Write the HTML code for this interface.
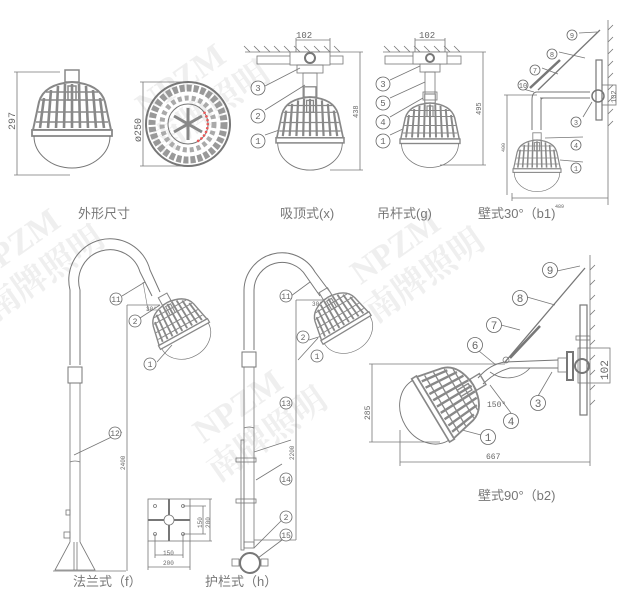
<!DOCTYPE html>
<html><head><meta charset="utf-8"><style>
html,body{margin:0;padding:0;background:#fff;}
svg{display:block;}
text{font-family:"Liberation Mono","Noto Sans CJK SC",monospace;fill:#666;}
.cn{font-size:13px;fill:#777;font-family:"Liberation Sans","Noto Sans CJK SC",sans-serif;}
.wm{font-size:34px;font-weight:bold;fill:#efefef;font-family:"Liberation Serif","Noto Serif CJK SC",serif;}
</style></head><body>
<svg width="631" height="601" viewBox="0 0 631 601" xmlns="http://www.w3.org/2000/svg">
<defs>
<g id="lamp">
  <rect x="-7" y="-12" width="14" height="12" fill="none" stroke="#888" stroke-width="1.5"/>
  <path d="M-39 48 L-33 20 Q-28 2 0 0 Q28 2 33 20 L39 48 Z" fill="#fff" stroke="#888" stroke-width="2"/>
  <g stroke="#888" stroke-width="2.6" fill="none">
    <path d="M-32 46 L-28 16 M-24 46 L-21 8 M-16 46 L-14 4 M-8 46 L-7 2 M0 46 L0 2 M8 46 L7 2 M16 46 L14 4 M24 46 L21 8 M32 46 L28 16"/>
    <path d="M-34 30 L34 30 M-31 18 L31 18 M-36 40 L36 40 M-26 10 L26 10" stroke-width="1.4"/>
    <rect x="-4" y="4" width="8" height="14" stroke-width="1.5"/>
  </g>
  <rect x="-40" y="48" width="80" height="6" fill="#fff" stroke="#888" stroke-width="1.8"/>
  <path d="M-38 54 A38 32 0 0 0 38 54" fill="none" stroke="#777" stroke-width="1"/>
</g>
<g id="c"><circle r="7" fill="#fff" stroke="#666" stroke-width="0.8"/></g>
</defs>

<!-- watermarks -->
<g transform="rotate(-35 200 300)">
<text class="wm" x="30" y="160">NPZM</text><text class="wm" x="20" y="200">南牌照明</text>
<text class="wm" x="260" y="120">NPZM</text><text class="wm" x="250" y="160">南牌照明</text>
<text class="wm" x="120" y="420">NPZM</text><text class="wm" x="110" y="460">南牌照明</text>
<text class="wm" x="340" y="380">NPZM</text><text class="wm" x="330" y="420">南牌照明</text>
</g>

<g stroke="#777" stroke-width="0.8" fill="none">
<!-- 外形尺寸 -->
<line x1="17" y1="72" x2="17" y2="175"/><line x1="14" y1="72" x2="60" y2="72"/><line x1="14" y1="175" x2="70" y2="175"/>
<!-- top view -->
<circle cx="188" cy="124" r="42" stroke-width="2"/>
<circle cx="188" cy="124" r="36" stroke-width="7" stroke="#999" stroke-dasharray="5 2"/>
<circle cx="188" cy="124" r="26" stroke-width="5" stroke="#aaa" stroke-dasharray="4 3"/>
<circle cx="188" cy="124" r="20" stroke-width="1"/>
<path d="M188 108 L188 140 M174 116 L202 132 M174 132 L202 116" stroke-width="3" stroke="#888"/>
<path d="M204 112 A20 20 0 0 1 196 142" stroke="#e55" stroke-width="2.5" stroke-dasharray="2 2"/>
<line x1="143" y1="82" x2="143" y2="166"/><line x1="140" y1="82" x2="185" y2="82"/><line x1="140" y1="166" x2="185" y2="166"/>
<!-- 吸顶 -->
<line x1="245" y1="52" x2="345" y2="52"/>
<path d="M250 52 l-6 -6 M260 52 l-6 -6 M270 52 l-6 -6 M280 52 l-6 -6 M290 52 l-6 -6 M300 52 l-6 -6 M310 52 l-6 -6 M320 52 l-6 -6 M330 52 l-6 -6 M340 52 l-6 -6"/>
<rect x="257" y="56" width="86" height="8"/><rect x="290" y="52" width="40" height="13" fill="#fff"/><circle cx="310" cy="58" r="5" stroke-width="2"/>
<rect x="297" y="65" width="26" height="8"/><rect x="303" y="73" width="14" height="24"/>
<path d="M296 38 L296 52 M330 38 L330 52 M296 40 L330 40"/>
<line x1="360" y1="52" x2="360" y2="170"/><line x1="345" y1="52" x2="363" y2="52"/><line x1="330" y1="170" x2="363" y2="170"/>
<path d="M265 86 L300 68 M265 110 L305 85 M265 135 L285 128"/>
<!-- 吊杆 -->
<line x1="383" y1="52" x2="460" y2="52"/>
<path d="M390 52 l-6 -6 M400 52 l-6 -6 M410 52 l-6 -6 M420 52 l-6 -6 M430 52 l-6 -6 M440 52 l-6 -6 M450 52 l-6 -6 M460 52 l-6 -6"/>
<rect x="385" y="56" width="76" height="8"/><rect x="413" y="52" width="34" height="12" fill="#fff"/><circle cx="430" cy="58" r="4" stroke-width="2"/>
<rect x="420" y="64" width="20" height="8"/><rect x="425" y="72" width="10" height="22"/><rect x="423" y="92" width="14" height="8"/>
<path d="M415 38 L415 52 M445 38 L445 52 M415 40 L445 40"/>
<line x1="483" y1="52" x2="483" y2="165"/><line x1="460" y1="52" x2="486" y2="52"/><line x1="440" y1="165" x2="486" y2="165"/>
<path d="M390 80 L420 66 M390 98 L425 82 M390 117 L423 98 M390 135 L405 128"/>
<!-- 壁式30 -->
<line x1="608" y1="20" x2="608" y2="205"/>
<path d="M608 30 l5 -5 M608 42 l5 -5 M608 54 l5 -5 M608 66 l5 -5 M608 78 l5 -5 M608 90 l5 -5 M608 102 l5 -5 M608 114 l5 -5 M608 126 l5 -5"/>
<rect x="596" y="60" width="6" height="60" stroke-width="1.2"/>
<rect x="602" y="85" width="14" height="20"/><circle cx="598" cy="96" r="6" stroke-width="1.5"/>
<path d="M537 92 L590 92 M540 98 L590 98" stroke-width="1"/>
<path d="M532 130 L532 100 Q532 92 537 92 M541 130 L541 100 Q541 98 544 98" stroke-width="1"/>
<path d="M538 90 L600 30" stroke-width="1.3"/>
<path d="M530 88 L560 60" stroke-width="2.5"/>
<line x1="507" y1="95" x2="507" y2="195"/><line x1="504" y1="95" x2="537" y2="95"/>
<line x1="512" y1="198" x2="608" y2="198"/><line x1="512" y1="193" x2="512" y2="201"/>
<path d="M579 33 L597 32 M559 52 L585 58 M542 68 L558 74 M523 89 L534 92 M583 117 L592 102 M583 137 L545 138 M583 162 L560 160"/>

<!-- 法兰式 f -->
<path d="M70 365 L70 290 A40 40 0 0 1 150 270 L160 292" stroke-width="1"/>
<path d="M80 365 L80 290 A30 30 0 0 1 140 272 L152 296" stroke-width="1"/>
<rect x="68" y="367" width="14" height="16" stroke-width="1"/>
<line x1="70" y1="383" x2="70" y2="542"/><line x1="80" y1="383" x2="80" y2="542"/>
<path d="M70 462 Q75 460 80 462"/>
<path d="M70 542 L55 570 L95 570 L80 542 M74 542 L74 570 M77 542 L77 570"/><line x1="53" y1="571" x2="126" y2="571"/>
<rect x="64" y="532" width="6" height="6"/><rect x="66" y="510" width="4" height="5"/>
<line x1="127" y1="305" x2="127" y2="571"/><line x1="127" y1="305" x2="160" y2="305"/>
<path d="M143 282 L148 310 L162 310" stroke-width="0.6"/>
<path d="M122 296 L145 282 M122 432 L74 455 M140 318 L160 305 M157 362 L172 345"/>
<!-- base plate -->
<rect x="148" y="499" width="42" height="42"/><line x1="148" y1="520" x2="190" y2="520" stroke-width="2"/><line x1="169" y1="499" x2="169" y2="541" stroke-width="2"/>
<circle cx="169" cy="520" r="5" fill="#fff"/>
<circle cx="155" cy="506" r="1.5"/><circle cx="183" cy="506" r="1.5"/><circle cx="155" cy="534" r="1.5"/><circle cx="183" cy="534" r="1.5"/>
<path d="M155 534 L155 558 M183 534 L183 558 M155 555 L183 555 M148 541 L148 570 M190 541 L190 570 M148 567 L190 567"/>
<path d="M183 506 L206 506 M183 534 L206 534 M203 506 L203 534 M190 499 L212 499 M190 541 L212 541 M210 499 L210 541"/>

<!-- 护栏式 h -->
<path d="M244 350 L244 290 A38 38 0 0 1 315 272 L330 292" stroke-width="1"/>
<path d="M254 350 L254 290 A28 28 0 0 1 306 276 L320 296" stroke-width="1"/>
<rect x="242" y="352" width="14" height="15" stroke-width="1"/>
<line x1="244" y1="367" x2="244" y2="545"/><line x1="254" y1="367" x2="254" y2="545"/>
<path d="M244 428 Q249 426 254 428"/>
<rect x="236" y="458" width="20" height="4"/><rect x="236" y="499" width="20" height="4"/>
<rect x="241" y="440" width="3" height="110"/>
<rect x="244" y="542" width="10" height="6"/>
<circle cx="250" cy="563" r="10" stroke-width="2"/><rect x="232" y="559" width="7" height="7"/><rect x="261" y="559" width="7" height="7"/>
<line x1="296" y1="300" x2="296" y2="540"/><line x1="296" y1="300" x2="326" y2="300"/><line x1="254" y1="540" x2="296" y2="540"/>
<path d="M291 296 L310 282 M291 440 L254 452 M282 464 L256 480 M282 520 L254 548 M282 540 L258 558 M309 340 L325 335 M298 360 L318 338"/>

<!-- 壁式90 b2 -->
<line x1="590" y1="255" x2="590" y2="466"/>
<path d="M590 270 l5 -5 M590 285 l5 -5 M590 300 l5 -5 M590 315 l5 -5 M590 330 l5 -5 M590 345 l5 -5 M590 360 l5 -5 M590 375 l5 -5 M590 390 l5 -5 M590 405 l5 -5"/>
<rect x="580" y="305" width="7" height="110" stroke-width="1.2"/>
<rect x="576" y="336" width="14" height="4"/>
<rect x="578" y="348" width="32" height="35"/><circle cx="582" cy="366" r="7" stroke-width="2"/>
<rect x="567" y="352" width="6" height="28" stroke-width="2"/><rect x="558" y="358" width="9" height="14"/>
<path d="M558 360 L505 362 Q490 364 478 378 M558 368 L510 368 Q495 372 483 384" stroke-width="1"/>
<path d="M505 362 L585 268" stroke-width="1.3"/>
<path d="M510 358 L540 326" stroke-width="2.5"/><circle cx="506" cy="360" r="3"/>
<path d="M490 372 A30 30 0 0 0 530 368"/>
<line x1="372" y1="364" x2="372" y2="442"/><line x1="369" y1="364" x2="505" y2="364"/><line x1="369" y1="442" x2="440" y2="442"/>
<line x1="400" y1="462" x2="590" y2="462"/><line x1="400" y1="430" x2="400" y2="466"/>
<path d="M557 271 L580 266 M527 297 L555 305 M501 325 L520 330 M479 351 L496 365 M538 396 L552 372 M511 413 L490 385 M481 435 L462 430"/>
</g>

<use href="#lamp" transform="translate(72,82)"/>
<use href="#lamp" transform="translate(310,97) scale(0.85)"/>
<use href="#lamp" transform="translate(430,103) scale(0.75)"/>
<use href="#lamp" transform="translate(537,140) scale(0.6)"/>
<use href="#lamp" transform="translate(184,334) rotate(-29) scale(0.7) translate(0,-51)"/>
<use href="#lamp" transform="translate(346,328) rotate(-31) scale(0.7) translate(0,-51)"/>
<use href="#lamp" transform="translate(433,409) rotate(59) scale(0.92) translate(0,-51)"/>

<!-- callout circles -->
<g font-size="9" text-anchor="middle">
<use href="#c" x="258" y="88"/><text x="258" y="91">3</text>
<use href="#c" x="258" y="116"/><text x="258" y="119">2</text>
<use href="#c" x="258" y="141"/><text x="258" y="144">1</text>
<use href="#c" x="383" y="84"/><text x="383" y="87">3</text>
<use href="#c" x="383" y="103"/><text x="383" y="106">5</text>
<use href="#c" x="383" y="122"/><text x="383" y="125">4</text>
<use href="#c" x="383" y="141"/><text x="383" y="144">1</text>
<g font-size="7">
<circle cx="572" cy="35" r="5" fill="#fff" stroke="#666" stroke-width="0.8"/><text x="572" y="38">9</text>
<circle cx="552" cy="54" r="5" fill="#fff" stroke="#666" stroke-width="0.8"/><text x="552" y="57">8</text>
<circle cx="535" cy="70" r="5" fill="#fff" stroke="#666" stroke-width="0.8"/><text x="535" y="73">7</text>
<circle cx="523" cy="85" r="5" fill="#fff" stroke="#666" stroke-width="0.8"/><text x="523" y="88">10</text>
<circle cx="576" cy="122" r="5" fill="#fff" stroke="#666" stroke-width="0.8"/><text x="576" y="125">3</text>
<circle cx="576" cy="145" r="5" fill="#fff" stroke="#666" stroke-width="0.8"/><text x="576" y="148">4</text>
<circle cx="576" cy="168" r="5" fill="#fff" stroke="#666" stroke-width="0.8"/><text x="576" y="171">1</text>
</g>
<g font-size="8">
<circle cx="116" cy="299" r="6" fill="#fff" stroke="#666" stroke-width="0.8"/><text x="116" y="302">11</text>
<circle cx="135" cy="321" r="6" fill="#fff" stroke="#666" stroke-width="0.8"/><text x="135" y="324">2</text>
<circle cx="150" cy="364" r="6" fill="#fff" stroke="#666" stroke-width="0.8"/><text x="150" y="367">1</text>
<circle cx="115" cy="433" r="6" fill="#fff" stroke="#666" stroke-width="0.8"/><text x="115" y="436">12</text>
<circle cx="286" cy="296" r="6" fill="#fff" stroke="#666" stroke-width="0.8"/><text x="286" y="299">11</text>
<circle cx="303" cy="337" r="6" fill="#fff" stroke="#666" stroke-width="0.8"/><text x="303" y="340">2</text>
<circle cx="317" cy="356" r="6" fill="#fff" stroke="#666" stroke-width="0.8"/><text x="317" y="359">1</text>
<circle cx="286" cy="403" r="6" fill="#fff" stroke="#666" stroke-width="0.8"/><text x="286" y="406">13</text>
<circle cx="286" cy="479" r="6" fill="#fff" stroke="#666" stroke-width="0.8"/><text x="286" y="482">14</text>
<circle cx="286" cy="517" r="6" fill="#fff" stroke="#666" stroke-width="0.8"/><text x="286" y="520">2</text>
<circle cx="286" cy="535" r="6" fill="#fff" stroke="#666" stroke-width="0.8"/><text x="286" y="538">15</text>
</g>
<g font-size="11">
<circle cx="550" cy="270" r="7.5" fill="#fff" stroke="#666" stroke-width="0.8"/><text x="550" y="274">9</text>
<circle cx="520" cy="298" r="7.5" fill="#fff" stroke="#666" stroke-width="0.8"/><text x="520" y="302">8</text>
<circle cx="494" cy="325" r="7.5" fill="#fff" stroke="#666" stroke-width="0.8"/><text x="494" y="329">7</text>
<circle cx="475" cy="345" r="7.5" fill="#fff" stroke="#666" stroke-width="0.8"/><text x="475" y="349">6</text>
<circle cx="538" cy="403" r="7.5" fill="#fff" stroke="#666" stroke-width="0.8"/><text x="538" y="407">3</text>
<circle cx="511" cy="421" r="7.5" fill="#fff" stroke="#666" stroke-width="0.8"/><text x="511" y="425">4</text>
<circle cx="488" cy="437" r="7.5" fill="#fff" stroke="#666" stroke-width="0.8"/><text x="488" y="441">1</text>
</g>
</g>

<!-- dimension labels -->
<text font-size="10" transform="translate(15,130) rotate(-90)">297</text>
<text font-size="10" transform="translate(141,142) rotate(-90)">ø250</text>
<text x="296" y="38" font-size="9">102</text>
<text x="419" y="38" font-size="9">102</text>
<text font-size="7" transform="translate(358,118) rotate(-90)">438</text>
<text font-size="7" transform="translate(481,115) rotate(-90)">495</text>
<text font-size="5" transform="translate(505,152) rotate(-90)">400</text>
<text x="555" y="208" font-size="5">489</text>
<text font-size="7" transform="translate(616,103) rotate(-90)">102</text>
<text font-size="6" transform="translate(125,470) rotate(-90)">2400</text>
<text font-size="6" transform="translate(294,460) rotate(-90)">2200</text>
<text x="146" y="311" font-size="6">30°</text>
<text x="312" y="306" font-size="6">30°</text>
<text x="163" y="555" font-size="6">150</text>
<text x="163" y="565" font-size="6">200</text>
<text font-size="6" transform="translate(202,528) rotate(-90)">150</text>
<text font-size="6" transform="translate(210,528) rotate(-90)">200</text>
<text font-size="8" transform="translate(370,420) rotate(-90)">285</text>
<text x="487" y="407" font-size="8">150°</text>
<text x="486" y="459" font-size="8">667</text>
<text font-size="11" transform="translate(608,380) rotate(-90)">102</text>

<!-- captions -->
<text class="cn" x="78" y="218">外形尺寸</text>
<text class="cn" x="280" y="218">吸顶式(x)</text>
<text class="cn" x="377" y="218">吊杆式(g)</text>
<text class="cn" x="478" y="218">壁式30°（b1)</text>
<text class="cn" x="73" y="586">法兰式（f）</text>
<text class="cn" x="205" y="586">护栏式（h）</text>
<text class="cn" x="478" y="500">壁式90°（b2)</text>
</svg>
</body></html>
